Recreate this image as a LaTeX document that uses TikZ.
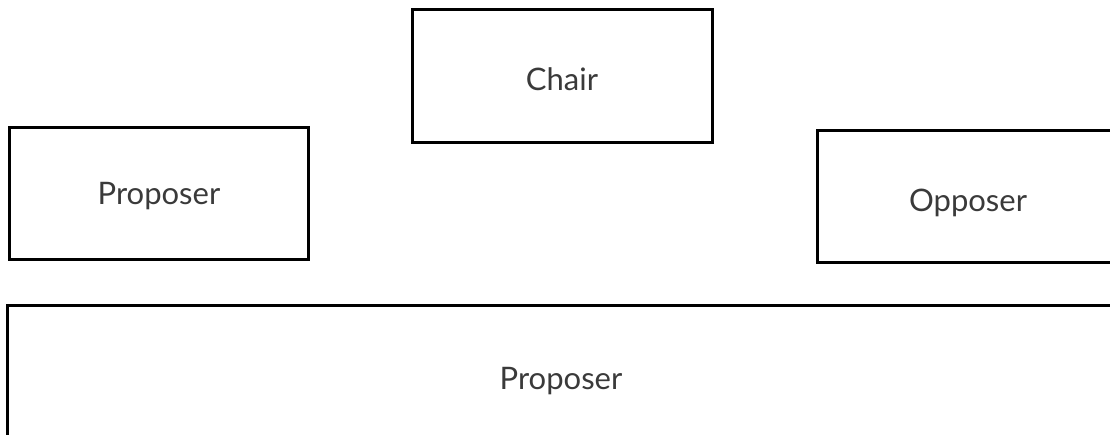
\documentclass[tikz,border=0pt]{standalone}
\usepackage{fontspec}
\setmainfont{Lato}
\definecolor{seattext}{HTML}{3a3a3a}
\newcommand{\seatlabel}[2]{\raisebox{-#1}[\height][\depth]{#2}}
\begin{document}
\begin{tikzpicture}[x=1pt, y=-1pt, line width=3pt,
  seat/.style={draw, rectangle, inner sep=0pt, text=seattext,
    font=\fontsize{31}{36}\selectfont}]
  % page, cut at the edges like the original
  \useasboundingbox (0,0) rectangle (1110,435);
  \clip (0,0) rectangle (1110,435);
  % the chair, at the top
  \node[seat, minimum width=300pt, minimum height=133pt] (chair) at (562,76.5) {\seatlabel{3pt}{Chair}};
  % the two sides
  \node[seat, minimum width=299pt, minimum height=132pt] (proposer) at (159,194) {\seatlabel{2pt}{Proposer}};
  \node[seat, minimum width=302pt, minimum height=132pt] (opposer) at (968,197) {\seatlabel{6pt}{Opposer}};
  % the floor
  \node[seat, minimum width=1108pt, minimum height=148pt] (floor) at (561,380) {\seatlabel{1pt}{Proposer}};
\end{tikzpicture}
\end{document}
